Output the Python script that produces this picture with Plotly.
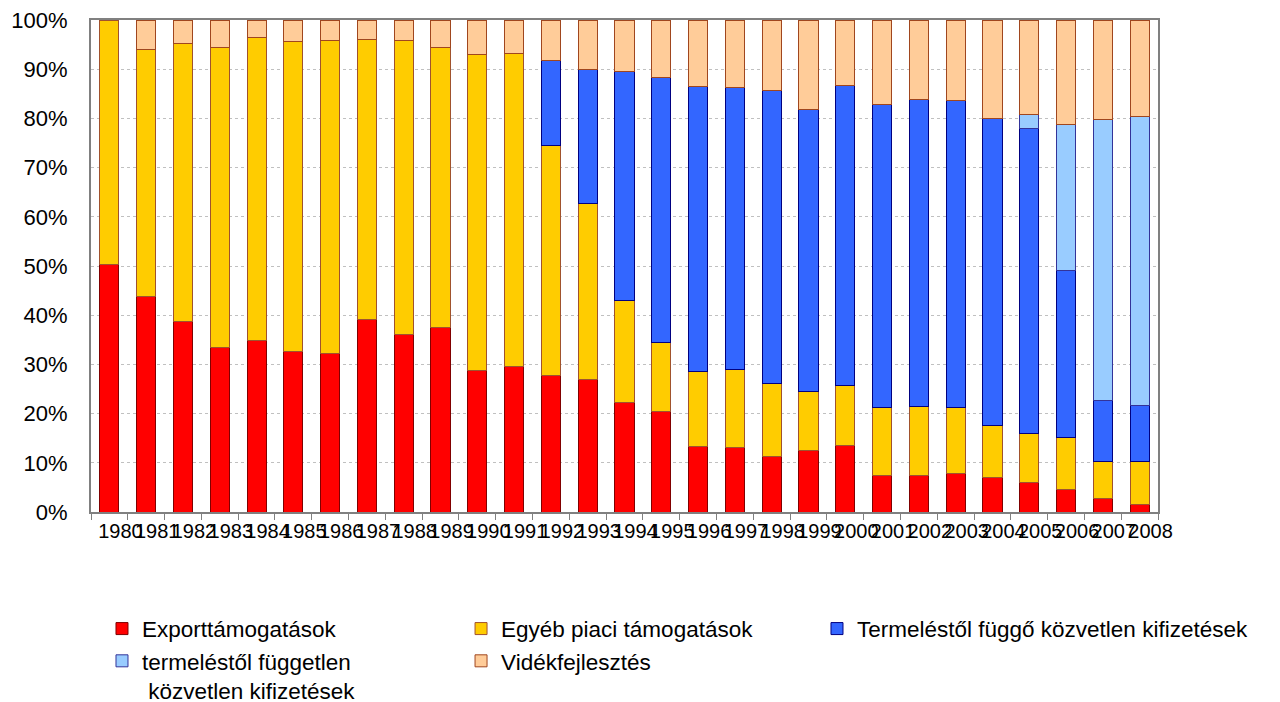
import plotly.graph_objects as go

years = [str(y) for y in range(1980, 2009)]

export_tam = [50.4, 43.9, 38.8, 33.4, 34.8, 32.7, 32.2, 39.2, 36.0, 37.6,
              28.7, 29.6, 27.8, 26.9, 22.2, 20.5, 13.4, 13.1, 11.2, 12.4,
              13.6, 7.5, 7.5, 7.9, 7.0, 5.9, 4.6, 2.8, 1.6]
egyeb_piaci = [49.6, 50.1, 56.4, 61.0, 61.7, 62.9, 63.7, 56.9, 59.9, 56.8,
               64.2, 63.6, 46.6, 35.8, 20.7, 14.0, 15.1, 15.8, 14.9, 12.0,
               12.2, 13.7, 13.9, 13.3, 10.6, 10.1, 10.5, 7.4, 8.6]
termeles_fuggo = [None, None, None, None, None, None, None, None, None, None,
                  None, None, 17.3, 27.3, 46.7, 53.9, 58.0, 57.4, 59.5, 57.5,
                  60.9, 61.6, 62.5, 62.5, 62.4, 61.9, 33.9, 12.4, 11.5]
termeles_fuggetlen = [None] * 25 + [2.8, 29.8, 57.1, 58.7]
videk = [None, 6.0, 4.8, 5.6, 3.5, 4.4, 4.1, 3.9, 4.1, 5.6,
         7.1, 6.8, 8.3, 10.0, 10.4, 11.6, 13.5, 13.7, 14.4, 18.1,
         13.3, 17.2, 16.1, 16.3, 20.0, 19.3, 21.2, 20.3, 19.6]

# (name, values, fill colour, edge colour, legend column)
series = [
    ("Exporttámogatások", export_tam, "#FF0000", "#800000", "legend"),
    ("Egyéb piaci támogatások", egyeb_piaci, "#FFCC00", "#A0522D", "legend2"),
    ("Termeléstől függő közvetlen kifizetések", termeles_fuggo, "#3366FF", "#000080", "legend3"),
    ("termeléstől független<br> közvetlen kifizetések", termeles_fuggetlen, "#99CCFF", "#333399", "legend"),
    ("Vidékfejlesztés", videk, "#FFCC99", "#A0461E", "legend2"),
]

fig = go.Figure()
for name, vals, fill, edge, leg in series:
    fig.add_trace(go.Bar(
        x=years, y=vals, name=name, legend=leg,
        marker=dict(color=fill, line=dict(color=edge, width=1)),
        width=0.52,
    ))

font_family = "Liberation Sans, Arial, sans-serif"
legend_common = dict(
    orientation="v", y=-0.194, xanchor="left", yanchor="top",
    font=dict(family=font_family, size=22.5, color="#000000"),
    traceorder="normal", itemwidth=30, tracegroupgap=0, valign="top",
    bgcolor="rgba(0,0,0,0)",
)
fig.update_layout(
    barmode="stack",
    width=1280, height=702,
    margin=dict(l=91, r=122, t=20, b=190, autoexpand=False),
    paper_bgcolor="white", plot_bgcolor="white",
    font=dict(family=font_family, size=20, color="#000000"),
    showlegend=True,
    legend=dict(x=0.0103, **legend_common),
    legend2=dict(x=0.3468, **legend_common),
    legend3=dict(x=0.6804, **legend_common),
)
fig.update_xaxes(
    type="category", tickmode="array", tickvals=years, ticktext=years,
    tickangle=0, showline=True, linecolor="#808080", linewidth=2,
    mirror=True, ticks="outside", ticklen=6, tickcolor="#808080",
    tickson="boundaries", showgrid=False, automargin=False,
    ticklabelshift=11,
    tickfont=dict(family=font_family, size=20, color="#000000"),
)
fig.update_yaxes(
    range=[0, 100], dtick=10, ticksuffix="%", showline=True,
    linecolor="#808080", linewidth=2, mirror=True,
    showgrid=True, gridcolor="#C0C0C0", griddash="3px,3px", gridwidth=1,
    ticks="", ticklabelstandoff=17, zeroline=False, automargin=False,
    tickfont=dict(family=font_family, size=22, color="#000000"),
)

fig.write_html("out.html", config={"displayModeBar": False},
               post_script="document.body.style.margin='0';")
